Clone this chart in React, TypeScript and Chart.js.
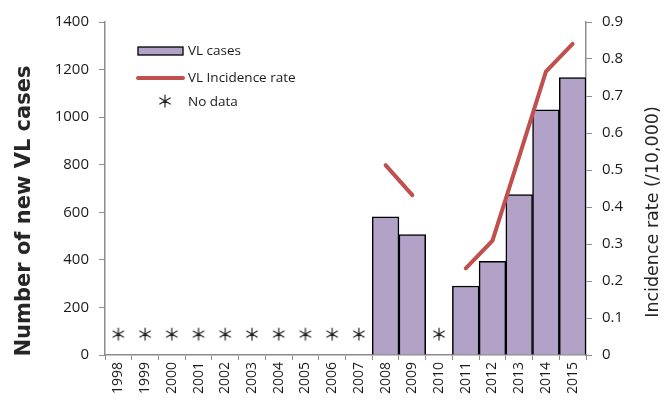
import React, { useEffect, useRef } from "react";
import { Chart, registerables } from "chart.js";

Chart.register(...registerables);

const years = [
  "1998", "1999", "2000", "2001", "2002", "2003", "2004", "2005", "2006",
  "2007", "2008", "2009", "2010", "2011", "2012", "2013", "2014", "2015",
];
const vlCases: (number | null)[] = [
  null, null, null, null, null, null, null, null, null,
  null, 581, 506, null, 290, 394, 674, 1031, 1166,
];
const incidenceRate: (number | null)[] = [
  null, null, null, null, null, null, null, null, null,
  null, 0.513, 0.432, null, 0.234, 0.309, 0.536, 0.766, 0.841,
];
// "No data" marker level (on the left axis)
const noData: (number | null)[] = [
  88, 88, 88, 88, 88, 88, 88, 88, 88,
  88, null, null, 88, null, null, null, null, null,
];
const leftTicks = [0, 200, 400, 600, 800, 1000, 1200, 1400];
const rightTicks = [0, 0.1, 0.2, 0.3, 0.4, 0.5, 0.6, 0.7, 0.8, 0.9];

const FONT = "'Open Sans', 'Liberation Sans', sans-serif";
const TITLE_FONT = "'DejaVu Sans', sans-serif";
const BAR_FILL = "#B3A2C7";
const LINE_COLOR = "#C0504D";
const AXIS_COLOR = "#8c8c8c";

function drawAsterisk(ctx: CanvasRenderingContext2D, cx: number, cy: number, r: number) {
  ctx.save();
  ctx.strokeStyle = "#222";
  ctx.lineWidth = 1.2;
  ctx.lineCap = "round";
  ctx.beginPath();
  for (let i = 0; i < 3; i++) {
    const a = Math.PI / 2 + (i * Math.PI) / 3;
    ctx.moveTo(cx + r * Math.cos(a), cy + r * Math.sin(a));
    ctx.lineTo(cx - r * Math.cos(a), cy - r * Math.sin(a));
  }
  ctx.stroke();
  ctx.restore();
}

function makeAsteriskImage(): HTMLCanvasElement {
  const c = document.createElement("canvas");
  c.width = 16;
  c.height = 16;
  const ctx = c.getContext("2d")!;
  drawAsterisk(ctx, 8, 8, 6);
  return c;
}

const overlayPlugin = {
  id: "overlay",
  afterDraw(chart: any) {
    const ctx: CanvasRenderingContext2D = chart.ctx;
    const ca = chart.chartArea;
    ctx.save();
    // Axis titles
    ctx.fillStyle = "#262626";
    ctx.textAlign = "center";
    ctx.textBaseline = "middle";
    ctx.save();
    ctx.translate(25, 211);
    ctx.rotate(-Math.PI / 2);
    ctx.font = `bold 21px ${TITLE_FONT}`;
    ctx.fillText("Number of new VL cases", 0, 0);
    ctx.restore();
    ctx.save();
    ctx.translate(653, 212);
    ctx.rotate(-Math.PI / 2);
    ctx.font = `17.5px ${TITLE_FONT}`;
    ctx.fillText("Incidence rate (/10,000)", 0, 0);
    ctx.restore();

    // Legend
    const lx = ca.left + 33;
    const ly = ca.top + 29;
    ctx.textAlign = "left";
    ctx.font = `13.5px ${FONT}`;
    ctx.fillStyle = BAR_FILL;
    ctx.fillRect(lx, ly - 4, 45, 8);
    ctx.strokeStyle = "#000";
    ctx.lineWidth = 1.3;
    ctx.strokeRect(lx, ly - 4, 45, 8);
    ctx.fillStyle = "#1a1a1a";
    ctx.fillText("VL cases", lx + 50, ly);

    ctx.strokeStyle = LINE_COLOR;
    ctx.lineWidth = 4;
    ctx.lineCap = "round";
    ctx.beginPath();
    ctx.moveTo(lx, ly + 27);
    ctx.lineTo(lx + 45, ly + 27);
    ctx.stroke();
    ctx.fillText("VL Incidence rate", lx + 50, ly + 27);

    drawAsterisk(ctx, lx + 27, ly + 50, 6);
    ctx.fillText("No data", lx + 50, ly + 51);
    ctx.restore();
  },
};

export default function App() {
  const canvasRef = useRef<HTMLCanvasElement | null>(null);

  useEffect(() => {
    document.body.style.margin = "0";
    const asterisk = makeAsteriskImage();
    const chart = new Chart(canvasRef.current!, {
      type: "bar",
      data: {
        labels: years,
        datasets: [
          {
            type: "line",
            label: "VL Incidence rate",
            data: incidenceRate,
            yAxisID: "y1",
            borderColor: LINE_COLOR,
            borderWidth: 4,
            borderCapStyle: "round",
            pointRadius: 0,
            spanGaps: false,
            order: 1,
          } as any,
          {
            type: "bar",
            label: "VL cases",
            data: vlCases,
            yAxisID: "y",
            backgroundColor: BAR_FILL,
            borderColor: "#000",
            borderWidth: 1.5,
            barPercentage: 1,
            categoryPercentage: 1,
            order: 2,
          } as any,
          {
            type: "line",
            label: "No data",
            data: noData,
            yAxisID: "y",
            showLine: false,
            pointStyle: asterisk,
            pointRadius: 6,
            order: 3,
          } as any,
        ],
      },
      options: {
        animation: false,
        responsive: true,
        maintainAspectRatio: false,
        layout: { padding: { top: 22, left: 0, right: 0, bottom: 0 } },
        plugins: { legend: { display: false }, tooltip: { enabled: false } },
        scales: {
          x: {
            offset: true,
            grid: {
              offset: true,
              drawOnChartArea: false,
              drawTicks: true,
              tickLength: 5,
              color: AXIS_COLOR,
            },
            border: { color: AXIS_COLOR, width: 1.5 },
            ticks: {
              autoSkip: false,
              maxRotation: 90,
              minRotation: 90,
              padding: 2,
              color: "#1a1a1a",
              font: { family: FONT, size: 14 },
            },
            afterFit(scale: any) {
              scale.height = 46;
            },
          },
          y: {
            position: "left",
            min: 0,
            max: 1400,
            afterBuildTicks(scale: any) {
              scale.ticks = leftTicks.map((v) => ({ value: v }));
            },
            grid: {
              drawOnChartArea: false,
              tickLength: 6,
              color: AXIS_COLOR,
            },
            border: { color: AXIS_COLOR, width: 1.5 },
            ticks: {
              padding: 10,
              color: "#1a1a1a",
              font: { family: FONT, size: 15 },
              callback: (v: any) => String(v),
            },
            afterFit(scale: any) {
              scale.width = 105;
            },
          },
          y1: {
            position: "right",
            min: 0,
            max: 0.9,
            afterBuildTicks(scale: any) {
              scale.ticks = rightTicks.map((v) => ({ value: v }));
            },
            grid: {
              drawOnChartArea: false,
              tickLength: 6,
              color: AXIS_COLOR,
            },
            border: { color: AXIS_COLOR, width: 1.5 },
            ticks: {
              padding: 10,
              color: "#1a1a1a",
              font: { family: FONT, size: 15 },
              callback: (v: any) => String(Math.round(Number(v) * 10) / 10),
            },
            afterFit(scale: any) {
              scale.width = 78;
            },
          },
        },
      },
      plugins: [overlayPlugin],
    });
    return () => chart.destroy();
  }, []);

  return (
    <div style={{ width: 664, height: 401, position: "relative" }}>
      <canvas ref={canvasRef} />
    </div>
  );
}
